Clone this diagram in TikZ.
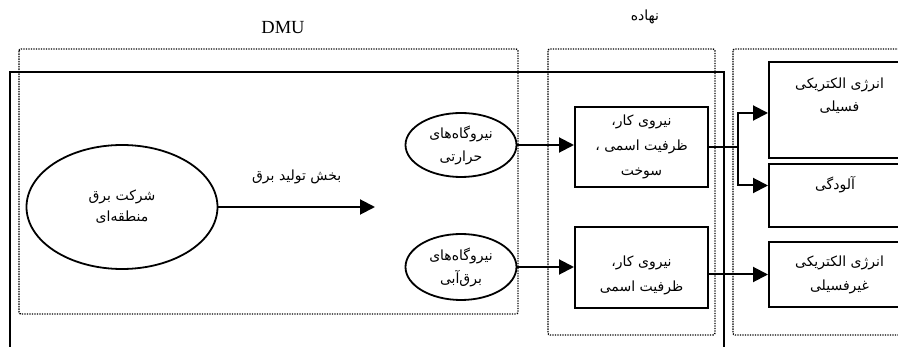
\documentclass[tikz,border=0pt]{standalone}
\usepackage{fontspec}
\setmainfont{Liberation Serif}
\newfontfamily\farsi[Script=Arabic]{DejaVu Sans}
\TeXXeTstate=1
\usetikzlibrary{positioning,arrows.meta,shapes.geometric}
\newcommand{\fa}[1]{{\farsi\beginR #1\endR}}

\begin{document}
\begin{tikzpicture}[x=1pt,y=-1pt,
  frame/.style={draw, line width=2pt},
  dotbox/.style={draw, line width=1.4pt, dash pattern=on 1.3pt off 1.2pt, rounded corners=2pt},
  unit/.style={ellipse, draw, line width=1.8pt, inner sep=0pt, align=center,
    font=\fontsize{14}{23}\selectfont},
  databox/.style={rectangle, draw, line width=2pt, inner sep=0pt, align=center,
    minimum width=133pt, font=\fontsize{14}{25}\selectfont},
  outbox/.style={rectangle, draw, line width=2pt, inner sep=0pt, align=center,
    minimum width=141pt, font=\fontsize{14}{24}\selectfont},
  ftext/.style={align=center, font=\fontsize{14}{23}\selectfont},
  arr/.style={-{Triangle[length=15pt, width=15pt]}, line width=2pt},
  flow/.style={line width=2pt},
]
\useasboundingbox (0,0) rectangle (898,347);
\clip (0,0) rectangle (898,347);
% Titles
\node[font=\fontsize{18.5}{20}\selectfont] (dmu) at (283,28) {DMU};
\node[ftext] (inputs) at (645,17) {\fa{نهاده}};
% Dotted groups
\draw[dotbox] (19,49) rectangle (518,314);
\draw[dotbox] (548,49) rectangle (715,335);
\draw[dotbox] (733,49) rectangle (915,335);
% Outer frame
\draw[frame] (10,350) -- (10,72) -- (724,72) -- (724,350);
% Company and plants
\node[unit, minimum width=191pt, minimum height=124pt,
  font=\fontsize{14}{21}\selectfont] (region) at (122,207)
  {\fa{شرکت برق}\\\fa{منطقه‌ای}};
\node[unit, minimum width=111pt, minimum height=64pt] (thermal) at (461,145)
  {\fa{نیروگاه‌های}\\\fa{حرارتی}};
\node[unit, minimum width=111pt, minimum height=66pt] (hydro) at (461,267)
  {\fa{نیروگاه‌های}\\\fa{برق‌آبی}};
\coordinate (gen) at (375,207);
\draw[arr] (region.east) -- node[ftext, above=19pt] (genlbl) {\fa{بخش تولید برق}} (gen);
% Inputs
\node[databox, minimum height=80pt] (in1) at (641.5,147)
  {\fa{نیروی کار،}\\\fa{ظرفیت اسمی ،}\\\fa{سوخت}};
\node[databox, minimum height=81pt] (in2) at (641.5,267.5) {};
\node[ftext, font=\fontsize{14}{25}\selectfont] (in2txt) at (641.5,275)
  {\fa{نیروی کار،}\\\fa{ظرفیت اسمی}};
\draw[arr] (thermal.east) -- (thermal.east -| in1.west);
\draw[arr] (hydro.east) -- (hydro.east -| in2.west);
% Outputs
\node[outbox, minimum height=96pt] (fossil) at (839.5,110) {};
\node[ftext, below=13pt of fossil.north] (fossiltxt) {\fa{انرژی الکتریکی}\\\fa{فسیلی}};
\node[outbox, minimum height=63pt] (pollut) at (839.5,195.5) {};
\node[ftext] (pollutxt) at (835,185) {\fa{آلودگی}};
\node[outbox, minimum height=65pt] (nonfos) at (839.5,274.5)
  {\fa{انرژی الکتریکی}\\\fa{غیرفسیلی}};
% Output arrows
\coordinate (split) at (738,147);
\draw[flow] (in1.east |- split) -- (split);
\draw[arr] (split) |- ([yshift=-3pt]fossil.west);
\draw[arr] (split) |- ([yshift=10pt]pollut.west);
\draw[arr] (in2.east |- nonfos.west) -- (nonfos.west);
\end{tikzpicture}
\end{document}
